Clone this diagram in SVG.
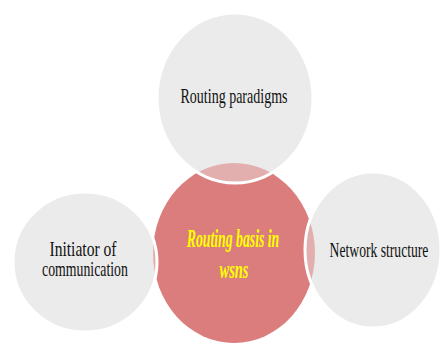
<svg xmlns="http://www.w3.org/2000/svg" width="443" height="345" viewBox="0 0 443 345">
<defs>
<style>
.g{fill:#ebebeb;stroke:none}
.go{fill:#ebebeb;fill-opacity:0.45;stroke:#ffffff;stroke-width:3}
.red{fill:#dc7d7d;stroke:none}
.t{font-family:"Liberation Serif","Times New Roman",serif;font-size:22px;fill:#111111;text-anchor:middle}
.s{font-size:20px}
.c{font-family:"Liberation Serif","Times New Roman",serif;font-size:25px;font-weight:bold;font-style:italic;fill:#ffff00;text-anchor:middle}
</style>
</defs>
<rect width="443" height="345" fill="#ffffff"/>
<g id="base">
<ellipse class="g" cx="235" cy="98" rx="78" ry="85"/>
<ellipse class="g" cx="85" cy="262" rx="72" ry="70"/>
<ellipse class="g" cx="373" cy="250" rx="68" ry="78"/>
</g>
<g id="center">
<ellipse class="red" cx="234" cy="253" rx="81" ry="90"/>
</g>
<g id="top">
<ellipse class="go" cx="235" cy="98" rx="78" ry="85"/>
<text class="t" transform="translate(234 103) scale(0.637 1)" x="0" y="0">Routing paradigms</text>
</g>
<g id="left">
<ellipse class="go" cx="85" cy="262" rx="72" ry="70"/>
<text class="t s" transform="translate(83 256) scale(0.78 1)" x="0" y="0">Initiator of</text>
<text class="t s" transform="translate(85 276) scale(0.69 1)" x="0" y="0">communication</text>
</g>
<g id="right">
<ellipse class="go" cx="373" cy="250" rx="68" ry="78"/>
<text class="t" transform="translate(379 257) scale(0.62 1)" x="0" y="0">Network structure</text>
</g>
<g id="centerLabel">
<text class="c" transform="translate(233 247) scale(0.55 1)" x="0" y="0">Routing basis in</text>
<text class="c" transform="translate(234 278) scale(0.58 1)" x="0" y="0">wsns</text>
</g>
<g id="connectors"></g>
</svg>
